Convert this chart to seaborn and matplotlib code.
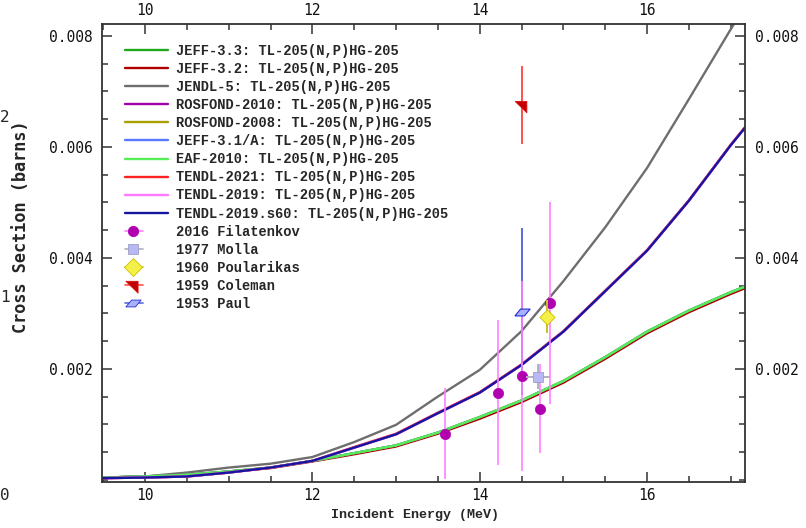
import matplotlib
matplotlib.use("Agg")
import numpy as np
import pandas as pd
import matplotlib.pyplot as plt
import seaborn as sns
from matplotlib.lines import Line2D
from matplotlib.path import Path
from matplotlib.legend_handler import HandlerBase
from matplotlib.ticker import MultipleLocator, FixedLocator

# ---------------- data ----------------
energy = [9.5, 10, 10.5, 11, 11.5, 12, 12.5, 13, 13.5, 14, 14.5, 15, 15.5, 16, 16.5, 17, 17.2]

xs_low = [0.00004, 0.00006, 0.00009, 0.00015, 0.00022, 0.00034, 0.00048, 0.00062,
          0.00085, 0.00113, 0.00143, 0.00178, 0.00221, 0.00267, 0.00305, 0.00338, 0.00350]
xs_low_jeff32 = [0.00004, 0.00006, 0.00008, 0.00014, 0.00021, 0.00033, 0.00046, 0.00060,
                 0.00083, 0.00110, 0.00140, 0.00175, 0.00218, 0.00264, 0.00302, 0.00335, 0.00347]
xs_mid = [0.00003, 0.00004, 0.00006, 0.00013, 0.00022, 0.00034, 0.00058, 0.00082,
          0.00120, 0.00157, 0.00207, 0.00267, 0.00340, 0.00413, 0.00503, 0.00603, 0.00640]
xs_mid_tendl21 = [0.00003, 0.00004, 0.00006, 0.00013, 0.00022, 0.00034, 0.00059, 0.00083,
                  0.00121, 0.00158, 0.00208, 0.00268, 0.00341, 0.00414, 0.00504, 0.00604, 0.00641]
xs_jendl5 = [0.00004, 0.00006, 0.00013, 0.00022, 0.00029, 0.00041, 0.00068, 0.00099,
             0.00150, 0.00198, 0.00268, 0.00358, 0.00455, 0.00562, 0.00686, 0.00812, 0.00860]

libraries = ["JEFF-3.3", "JEFF-3.2", "JENDL-5", "ROSFOND-2010", "ROSFOND-2008",
             "JEFF-3.1/A", "EAF-2010", "TENDL-2021", "TENDL-2019", "TENDL-2019.s60"]
library_values = {
    "JEFF-3.3": xs_low, "JEFF-3.2": xs_low_jeff32, "JENDL-5": xs_jendl5,
    "ROSFOND-2010": xs_mid, "ROSFOND-2008": xs_low, "JEFF-3.1/A": xs_low,
    "EAF-2010": xs_low, "TENDL-2021": xs_mid_tendl21, "TENDL-2019": xs_mid,
    "TENDL-2019.s60": xs_mid,
}
library_colors = ["#1ea81e", "#b00000", "#6e6e6e", "#a000a8", "#aaa000",
                  "#5878ff", "#55ee55", "#ff2020", "#ff78ff", "#1515a0"]
reaction = ": TL-205(N,P)HG-205"

# experimental data
fil_e = [13.58, 14.22, 14.50, 14.72, 14.84]
fil_xs = [0.00083, 0.00157, 0.00187, 0.00128, 0.00319]
fil_err = [0.00082, 0.00131, 0.00172, 0.00080, 0.00182]
molla_e = [14.70]
molla_xs = [0.00186]
molla_xerr = [0.145]
molla_err = [0.00022]
poul_e = [14.80]
poul_xs = [0.00294]
poul_err = [0.00030]
cole_e = [14.50]
cole_xs = [0.00676]
cole_err = [0.00070]
paul_e = [14.50]
paul_xs = [0.00303]
paul_err = [0.00151]

x_major = [10, 12, 14, 16]
y_major = [0.002, 0.004, 0.006, 0.008]
y_major_labels = ["0.002", "0.004", "0.006", "0.008"]

# ---------------- style ----------------
sns.set_style("white")
plt.rcParams["font.family"] = ["DejaVu Sans Mono", "DejaVu Sans"]

fig = plt.figure(figsize=(8.06, 5.28), dpi=100)
ax = fig.add_axes([102 / 806, 46 / 528, 643 / 806, 458 / 528])

rows = []
for lib in libraries:
    for e, v in zip(energy, library_values[lib]):
        rows.append({"E": e, "xs": v, "lib": lib})
df = pd.DataFrame(rows)
palette = dict(zip(libraries, library_colors))
sns.lineplot(data=df, x="E", y="xs", hue="lib", hue_order=libraries, palette=palette,
             estimator=None, sort=False, linewidth=1.7, legend=False, ax=ax, zorder=2)

# error bars
ax.errorbar(paul_e, paul_xs, yerr=paul_err, fmt="none", ecolor="#5a6ad8", elinewidth=1.4, zorder=3.0)
ax.errorbar(cole_e, cole_xs, yerr=cole_err, fmt="none", ecolor="#ff5050", elinewidth=1.4, zorder=3.0)
ax.errorbar(fil_e, fil_xs, yerr=fil_err, fmt="none", ecolor="#ff80ff", elinewidth=1.2, zorder=3.1)
ax.errorbar(molla_e, molla_xs, xerr=molla_xerr, yerr=molla_err, fmt="none", ecolor="#b4b0c0",
            elinewidth=1.4, zorder=3.3)
ax.errorbar(poul_e, poul_xs, yerr=poul_err, fmt="none", ecolor="#c8c030", elinewidth=1.4, zorder=3.3)

paul_marker = Path([(-1, -0.45), (0.25, -0.45), (1, 0.45), (-0.25, 0.45), (-1, -0.45)])
cole_marker = Path([(-1, 0.55), (0.6, 0.55), (0.6, -1.0), (-1, 0.55)])

sns.scatterplot(x=fil_e, y=fil_xs, marker="o", s=55, color="#b000b0", edgecolor="#b000b0",
                linewidth=0.5, ax=ax, zorder=3.2)
sns.scatterplot(x=molla_e, y=molla_xs, marker="s", s=55, color="#b8b8f4", edgecolor="#a0a0c8",
                linewidth=0.6, ax=ax, zorder=3.4)
sns.scatterplot(x=poul_e, y=poul_xs, marker="D", s=60, color="#f4f048", edgecolor="#c8c000",
                linewidth=0.6, ax=ax, zorder=3.5)
sns.scatterplot(x=cole_e, y=cole_xs, marker=cole_marker, s=110, color="#c00000", edgecolor="#e01010",
                linewidth=0.6, ax=ax, zorder=3.5)
sns.scatterplot(x=paul_e, y=paul_xs, marker=paul_marker, s=120, color="#a8b0ff", edgecolor="#2030d0",
                linewidth=0.8, ax=ax, zorder=3.6)

# ---------------- axes ----------------
ax.set_xlim(9.486, 17.171)
ax.set_ylim(-0.00004, 0.008216)
ax.xaxis.set_major_locator(FixedLocator(x_major))
ax.xaxis.set_minor_locator(MultipleLocator(0.5))
ax.yaxis.set_major_locator(FixedLocator(y_major))
ax.yaxis.set_minor_locator(MultipleLocator(0.0005))
ax.set_xticklabels([str(v) for v in x_major])
ax.set_yticklabels(y_major_labels)
ax.tick_params(which="both", direction="in", top=True, right=True, bottom=True, left=True,
               labeltop=True, labelright=True, color="#333333", width=1.1, labelsize=10.5,
               labelcolor="#111111")
ax.tick_params(which="major", length=7, pad=4)
ax.tick_params(axis="y", which="major", pad=7)
ax.tick_params(which="minor", length=4)
for sp in ax.spines.values():
    sp.set_color("#333333")
    sp.set_linewidth(1.3)
ax.set_xlabel("")
ax.set_ylabel("")

fig.text(415 / 806, 1 - 515 / 528, "Incident Energy (MeV)", ha="center", va="center",
         fontsize=9.6, fontweight="bold", family=["Liberation Mono", "DejaVu Sans Mono"])
fig.text(21 / 806, 1 - 227 / 528, "Cross Section (barns)", ha="center", va="center", rotation=90,
         fontsize=12.2, fontweight="bold", family=["DejaVu Sans Mono"])
for txt, yy in [("2", 118), ("1", 297), ("0", 495)]:
    fig.text(0.0, 1 - yy / 528, txt, ha="left", va="center", fontsize=11.5)

# ---------------- legend ----------------
class MarkHandler(HandlerBase):
    def create_artists(self, legend, orig_handle, xdescent, ydescent, width, height, fontsize, trans):
        x0 = -xdescent
        y = -ydescent + height / 2
        cx = x0 + 0.19 * width
        seg = Line2D([x0, x0 + 0.43 * width], [y, y], color=orig_handle.get_color(), lw=1.2,
                     transform=trans)
        mk = Line2D([cx], [y], ls="none", marker=orig_handle.get_marker(),
                    ms=orig_handle.get_markersize(), mfc=orig_handle.get_markerfacecolor(),
                    mec=orig_handle.get_markeredgecolor(), mew=0.6, transform=trans)
        return [seg, mk]

handles = [Line2D([], [], color=c, lw=1.7) for c in library_colors]
labels = [lib + reaction for lib in libraries]
mark_handles = [
    Line2D([], [], color="#ff80ff", marker="o", ms=7.4, mfc="#b000b0", mec="#b000b0"),
    Line2D([], [], color="#b0b0b8", marker="s", ms=7.4, mfc="#b8b8f4", mec="#a0a0c8"),
    Line2D([], [], color="#c8c030", marker="D", ms=9.5, mfc="#f4f048", mec="#c8c000"),
    Line2D([], [], color="#ff5050", marker=cole_marker, ms=11, mfc="#c00000", mec="#e01010"),
    Line2D([], [], color="#5a6ad8", marker=paul_marker, ms=11, mfc="#a8b0ff", mec="#2030d0"),
]
mark_labels = ["2016 Filatenkov", "1977 Molla", "1960 Poularikas", "1959 Coleman", "1953 Paul"]
hmap = {h: MarkHandler() for h in mark_handles}
leg = ax.legend(handles + mark_handles, labels + mark_labels, handler_map=hmap,
                loc="upper left", bbox_to_anchor=((125 - 102) / 643, (482 - 44) / 458),
                frameon=False, borderpad=0, borderaxespad=0, handlelength=3.1,
                handletextpad=0.6, labelspacing=0.295,
                prop={"family": ["Liberation Mono", "DejaVu Sans Mono"], "weight": "bold",
                      "size": 9.9})

fig.savefig("out.png", dpi=100)
